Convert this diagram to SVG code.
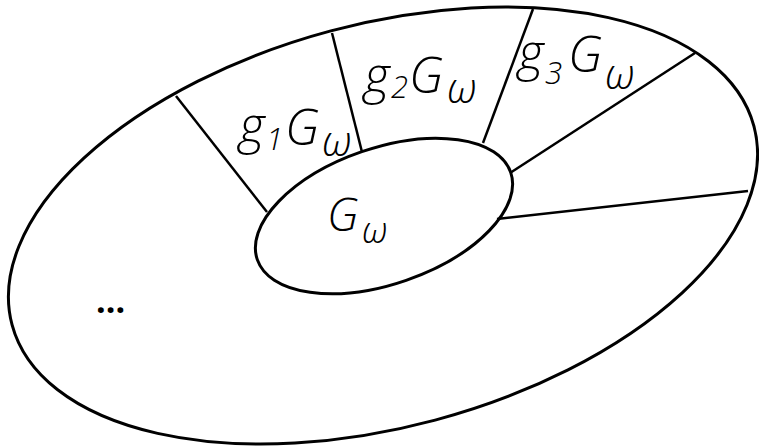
<svg xmlns="http://www.w3.org/2000/svg" width="759" height="448" viewBox="0 0 759 448">
<style>
.shape{fill:none;stroke:#000;stroke-width:3}
.ray{stroke:#000;stroke-width:2.5;fill:none}
.lbl{font-family:"Open Sans","DejaVu Sans",sans-serif;font-style:italic;font-weight:300;fill:#000}
.big{font-size:50px}
.sub{font-size:31px}
.om{font-size:42px}
</style>
<rect width="759" height="448" fill="#fff"/>
<g id="outer">
<ellipse class="shape" cx="383" cy="225.5" rx="384" ry="201.5" transform="rotate(-15 383 225.5)"/>
</g>
<g id="connectors">
<line class="ray" x1="176" y1="96" x2="267" y2="212"/>
<line class="ray" x1="332" y1="33" x2="362" y2="152"/>
<line class="ray" x1="533" y1="9" x2="483" y2="143"/>
<line class="ray" x1="695" y1="53" x2="510" y2="173"/>
<line class="ray" x1="748" y1="191" x2="497" y2="219"/>
</g>
<g id="inner">
<ellipse class="shape" cx="384" cy="216" rx="134" ry="68" transform="rotate(-19 384 216)"/>
<text class="lbl" x="327" y="231" font-size="46">G</text>
<text class="lbl" x="362" y="243" font-size="36">ω</text>
</g>
<g id="g1">
<text class="lbl big" x="239" y="143">g</text>
<text class="lbl sub" x="266" y="150">1</text>
<text class="lbl big" x="285" y="145">G</text>
<text class="lbl om" x="322" y="156">ω</text>
</g>
<g id="g2">
<text class="lbl big" x="364" y="93">g</text>
<text class="lbl sub" x="391" y="98">2</text>
<text class="lbl big" x="409" y="93">G</text>
<text class="lbl om" x="447" y="103">ω</text>
</g>
<g id="g3">
<text class="lbl big" x="518" y="70">g</text>
<text class="lbl sub" x="545" y="84">3</text>
<text class="lbl big" x="568" y="72">G</text>
<text class="lbl om" x="605" y="89">ω</text>
</g>
<g id="dots">
<text x="96" y="313" font-family="Open Sans, DejaVu Sans, sans-serif" font-size="34" font-weight="bold">...</text>
</g>
</svg>
